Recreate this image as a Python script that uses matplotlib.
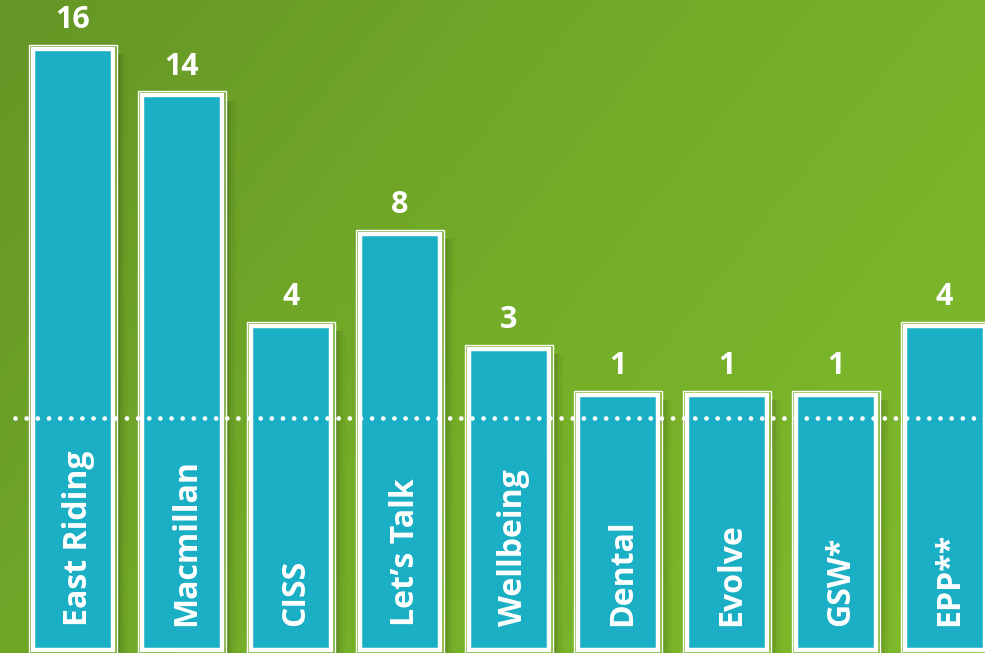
import numpy as np
import matplotlib.pyplot as plt
from matplotlib.patches import Rectangle
from matplotlib.colors import LinearSegmentedColormap

labels = ['East Riding', 'Macmillan', 'CISS', 'Let\u2019s Talk', 'Wellbeing',
          'Dental', 'Evolve', 'GSW*', 'EPP**']
values = [16, 14, 4, 8, 3, 1, 1, 1, 4]

bar_bottom = -10.2
teal = '#1aafc4'

fig = plt.figure(figsize=(9.85, 6.53), dpi=100)
ax = fig.add_axes([0, 0, 1, 1])
ax.set_xlim(-0.67, 8.37)
ax.set_ylim(-10.35, 17.96)
ax.axis('off')

# green gradient background
bg = LinearSegmentedColormap.from_list('bg', ['#659626', '#74ad28', '#80bb2c'])
yy, xx = np.mgrid[0:1:200j, 0:1:200j]
grad = 0.65 * xx + 0.35 * yy
ax.imshow(grad, cmap=bg, extent=[-0.67, 8.37, -10.35, 17.96], aspect='auto',
          origin='upper', zorder=0)

w_out = 0.807
w_in = 0.735
for i, v in enumerate(values):
    # soft shadow on the right
    for k, a in enumerate([0.08, 0.06, 0.04, 0.02]):
        ax.add_patch(Rectangle((i + w_out / 2, bar_bottom - 0.3),
                               0.025 * (k + 1), v - bar_bottom - 0.1,
                               facecolor='black', alpha=a, lw=0, zorder=1))
    # thin outer outline
    ax.add_patch(Rectangle((i - w_out / 2, bar_bottom - 0.3), w_out,
                           v - bar_bottom + 0.3, fill=False, edgecolor='white',
                           lw=1.0, zorder=2))
    # bar with thick white border
    ax.add_patch(Rectangle((i - w_in / 2, bar_bottom), w_in,
                           v - bar_bottom - 0.17, facecolor=teal,
                           edgecolor='white', lw=3.2, zorder=3))
    ax.annotate(str(v), (i, v), xytext=(0, 7), textcoords='offset points',
                ha='center', va='bottom', color='white', fontsize=22,
                fontweight='bold', family='Open Sans', zorder=5)
    ax.text(i + 0.125, -9.2, labels[i], rotation=90, rotation_mode='anchor',
            ha='left', va='baseline', color='white', fontsize=23,
            fontweight='bold', family='Open Sans', zorder=5)

# dotted baseline
ax.axhline(-0.15, xmin=15 / 985, xmax=1, color='white', lw=3.4,
           linestyle=(0, (0.01, 2.35)), dash_capstyle='round', zorder=4)

fig.savefig('out.png', dpi=100)
